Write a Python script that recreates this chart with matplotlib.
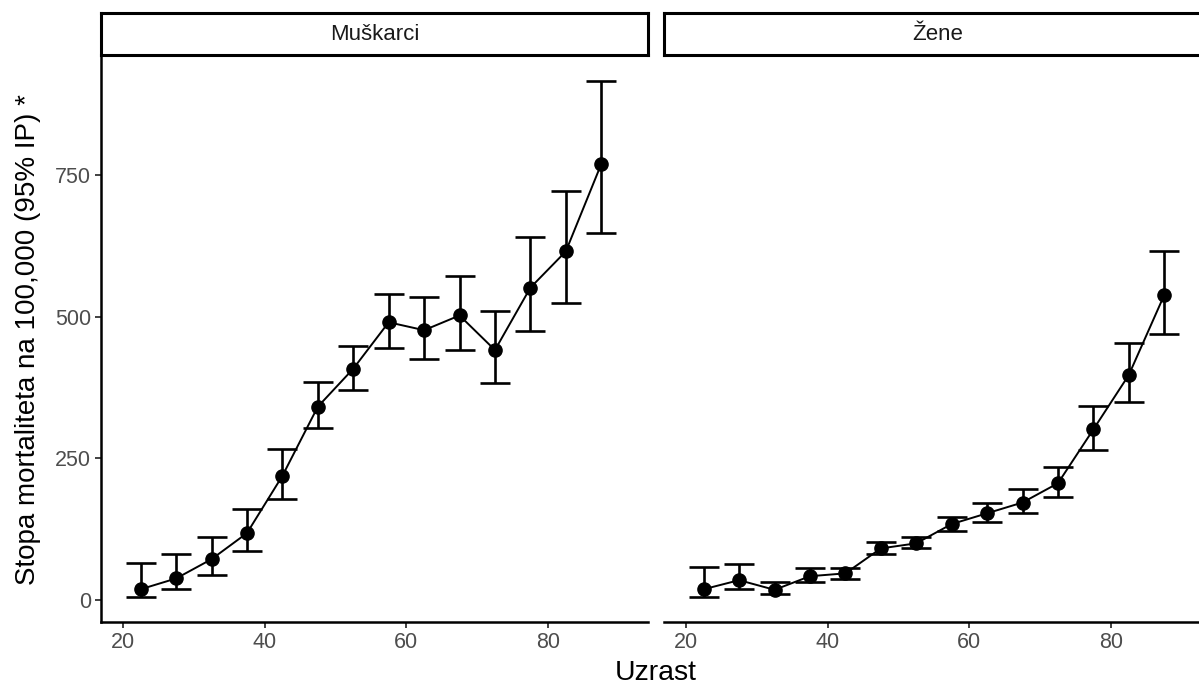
import numpy as np
import matplotlib
matplotlib.use('Agg')
from matplotlib import pyplot as plt

plt.rcParams['font.family'] = ['Liberation Sans', 'DejaVu Sans']

# dobne skupine (sredina razreda)
age = [22.5, 27.5, 32.5, 37.5, 42.5, 47.5, 52.5, 57.5, 62.5, 67.5, 72.5, 77.5, 82.5, 87.5]

men_rate = [19, 38, 72, 118, 219, 341, 408, 490, 476, 502, 441, 551, 615, 769]
men_lo = [6, 19, 45, 87, 179, 303, 371, 445, 425, 441, 382, 474, 524, 647]
men_hi = [65, 81, 112, 161, 267, 384, 449, 539, 535, 571, 509, 640, 722, 916]

women_rate = [19, 35, 18, 42, 47, 91, 100, 134, 153, 172, 206, 301, 397, 538]
women_lo = [6, 19, 10, 31, 37, 81, 91, 122, 137, 153, 182, 265, 349, 469]
women_hi = [59, 64, 31, 56, 56, 103, 111, 147, 171, 195, 234, 342, 453, 615]

panels = ['Muškarci', 'Žene']
y_ticks = [0, 250, 500, 750]
x_ticks = [20, 40, 60, 80]

W, H = 1199, 685
fig = plt.figure(figsize=(W / 100, H / 100), dpi=100)

def fx(px):
    return px / W

def fy(px):
    return 1 - px / H

panel_left = [101, 664]
panel_w = 547
top, bottom = 57, 622
series = [(men_rate, men_lo, men_hi), (women_rate, women_lo, women_hi)]

for i, (name, (rate, lo, hi)) in enumerate(zip(panels, series)):
    ax = fig.add_axes([fx(panel_left[i]), fy(bottom), fx(panel_w), (bottom - top) / H])
    rate = np.array(rate)
    yerr = [rate - np.array(lo), np.array(hi) - rate]
    ax.errorbar(age, rate, yerr=yerr, fmt='none', ecolor='black', elinewidth=1.9,
                capsize=10.8, capthick=1.9, zorder=2)
    ax.plot(age, rate, color='black', lw=1.4, marker='o', ms=9.5, zorder=3)
    ax.set_xlim(16.9, 94.1)
    ax.set_ylim(-38.8, 958)
    ax.set_xticks(x_ticks)
    for s in ['top', 'right']:
        ax.spines[s].set_visible(False)
    ax.spines['bottom'].set_linewidth(1.8)
    ax.spines['left'].set_linewidth(1.8)
    ax.tick_params(axis='both', labelsize=15.5, labelcolor='#4D4D4D', color='#333333',
                   length=4, width=1.3, pad=3)
    if i == 0:
        ax.set_yticks(y_ticks)
    else:
        ax.spines['left'].set_visible(False)
        ax.set_yticks([])

    # strip
    sax = fig.add_axes([fx(panel_left[i]), fy(55), fx(panel_w), 42 / H])
    sax.set_xticks([])
    sax.set_yticks([])
    for s in sax.spines.values():
        s.set_linewidth(2.2)
        s.set_color('black')
    sax.text(0.5, 0.5, name, transform=sax.transAxes, ha='center', va='center',
             fontsize=16, color='#1A1A1A')

fig.text(fx(656), fy(673), 'Uzrast', ha='center', va='center', fontsize=20.5)
fig.text(fx(28), fy(339.5), 'Stopa mortaliteta na 100,000 (95% IP) *', rotation=90,
         ha='center', va='center', fontsize=20)

plt.savefig('out.png', dpi=100)
